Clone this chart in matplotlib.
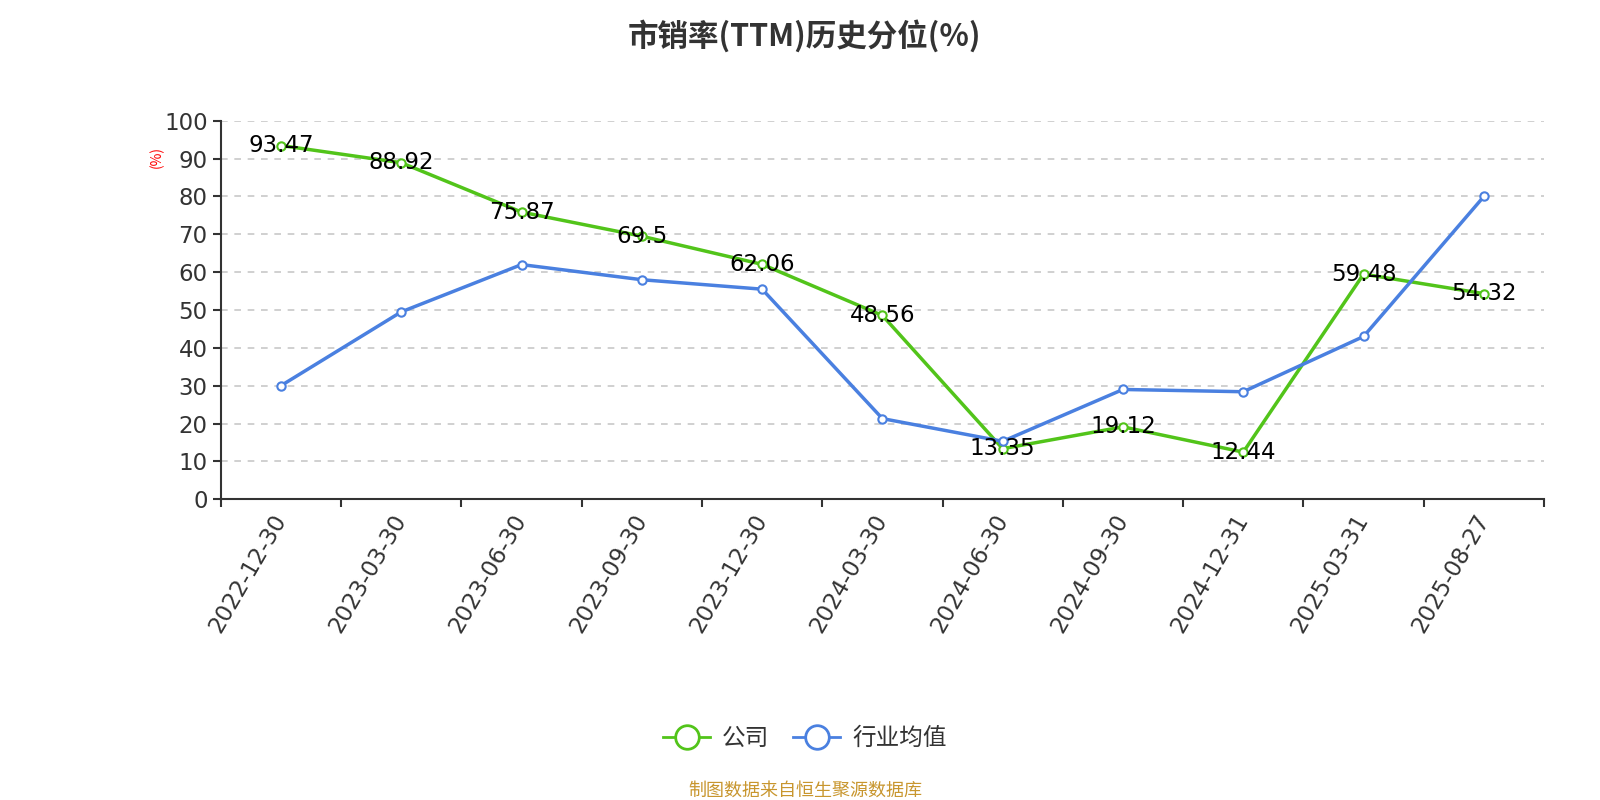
import matplotlib.pyplot as plt
from matplotlib.lines import Line2D

plt.rcParams['font.family'] = ['DejaVu Sans', 'Noto Sans CJK SC']

dates = ['2022-12-30', '2023-03-30', '2023-06-30', '2023-09-30', '2023-12-30',
         '2024-03-30', '2024-06-30', '2024-09-30', '2024-12-31', '2025-03-31',
         '2025-08-27']
company = [93.47, 88.92, 75.87, 69.5, 62.06, 48.56, 13.35, 19.12, 12.44, 59.48, 54.32]
industry = [30.0, 49.5, 62.0, 58.0, 55.5, 21.3, 15.3, 29.0, 28.4, 43.0, 80.0]

green = '#52c41a'
blue = '#4a80e0'
cjk = ['Noto Sans CJK SC', 'DejaVu Sans']

fig = plt.figure(figsize=(16, 8), dpi=100)
ax = fig.add_axes([0.138, 0.376, 0.827, 0.473])

x = list(range(len(dates)))
ax.plot(x, company, color=green, lw=2.5, marker='o', ms=6, mfc='white',
        mec=green, mew=1.5, zorder=3)
ax.plot(x, industry, color=blue, lw=2.5, marker='o', ms=6, mfc='white',
        mec=blue, mew=1.5, zorder=3)

for xi, v in zip(x, company):
    ax.text(xi, v, f'{v:g}', ha='center', va='center', fontsize=16.5,
            color='black', zorder=4)

ax.set_xlim(-0.5, len(dates) - 0.5)
ax.set_ylim(0, 100)
ax.set_yticks(range(0, 101, 10))
ax.set_xticks([i - 0.5 for i in range(len(dates) + 1)], minor=False)
ax.set_xticklabels([])
ax.set_xticks(x, minor=True)
ax.set_xticklabels(dates, minor=True, rotation=60, ha='right', va='center',
                   rotation_mode='anchor', fontsize=16.5, color='#333333')
ax.tick_params(axis='x', which='minor', length=0, pad=12)
ax.tick_params(axis='x', which='major', length=6, width=1.5, color='#333333')
ax.tick_params(axis='y', labelsize=16.5, labelcolor='#333333', length=6,
               width=1.5, color='#333333')

for v in range(10, 101, 10):
    ax.axhline(v, color='#c8c8c8', lw=1.2, ls=(0, (4, 4)), zorder=1)

for s in ['top', 'right']:
    ax.spines[s].set_visible(False)
for s in ['left', 'bottom']:
    ax.spines[s].set_color('#333333')
    ax.spines[s].set_linewidth(1.5)

fig.text(0.098, 0.804, '(%)', color='red', fontsize=10, rotation=90,
         ha='center', va='center', family=cjk)

fig.suptitle('市销率(TTM)历史分位(%)', x=0.503, y=0.975, fontsize=22,
             fontweight='bold', color='#333333', family=cjk)

handles = [Line2D([], [], color=green, lw=2, marker='o', ms=17, mfc='white',
                  mec=green, mew=2),
           Line2D([], [], color=blue, lw=2, marker='o', ms=17, mfc='white',
                  mec=blue, mew=2)]
fig.legend(handles, ['公司', '行业均值'], loc='center', bbox_to_anchor=(0.503, 0.077),
           ncol=2, frameon=False, prop={'family': cjk, 'size': 17},
           handlelength=2.0, columnspacing=1.0, handletextpad=0.5,
           labelcolor='#333333')

fig.text(0.503, 0.012, '制图数据来自恒生聚源数据库', color='#c8962e', fontsize=13,
         ha='center', va='center', family=cjk)

fig.savefig('out.png', dpi=100)
